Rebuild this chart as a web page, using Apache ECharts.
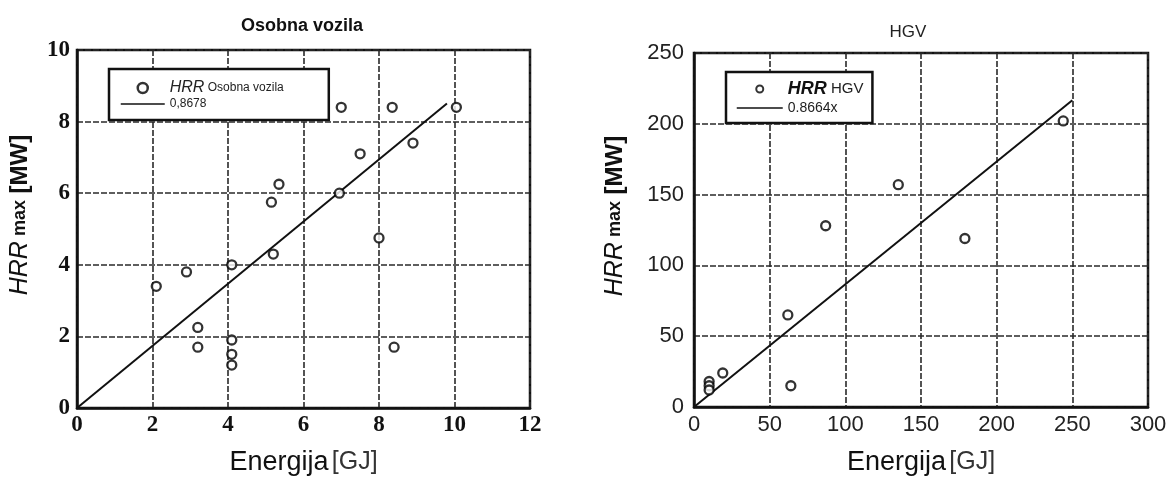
<!DOCTYPE html>
<html>
<head>
<meta charset="utf-8">
<style>
  html, body { margin: 0; padding: 0; background: #fff; }
  #chart { width: 1170px; height: 481px; }
</style>
<script src="https://cdn.jsdelivr.net/npm/echarts@6/dist/echarts.min.js"></script>
</head>
<body>
<div id="chart"></div>
<script>
// Passenger cars (Osobna vozila): energy [GJ] vs peak HRR [MW]
const carEnergy = [2.1, 2.9, 3.2, 3.2, 4.1, 4.1, 4.1, 4.1, 5.2, 5.15, 5.35, 6.95, 7.0, 7.5, 8.0, 8.35, 8.4, 8.9, 10.05];
const carHrr    = [3.4, 3.8, 2.25, 1.7, 4.0, 1.9, 1.5, 1.2, 4.3, 5.75, 6.25, 6.0, 8.4, 7.1, 4.75, 8.4, 1.7, 7.4, 8.4];
const carSlope = 0.8678;
const carFitEnd = 9.8;

// Heavy goods vehicles (HGV)
const hgvEnergy = [10, 10, 10, 19, 62, 64, 87, 135, 179, 244];
const hgvHrr    = [18, 15, 12, 24, 65, 15, 128, 157, 119, 202];
const hgvSlope = 0.8664;
const hgvFitEnd = 250;

const carTicksX = { min: 0, max: 12, interval: 2 };
const carTicksY = { min: 0, max: 10, interval: 2 };
const hgvTicksX = { min: 0, max: 300, interval: 50 };
const hgvTicksY = { min: 0, max: 250, interval: 50 };

const carNames = ['HRR Osobna vozila', '0,8678'];
const hgvNames = ['HRR HGV', '0.8664x'];

const zip = (xs, ys) => xs.map((x, i) => [x, ys[i]]);
const fitLine = (slope, end) => [[0, 0], [end, slope * end]];

const gridLine = { show: true, lineStyle: { color: '#2a2a2a', width: 1.6, type: [6, 2] } };
const frame = { show: true, lineStyle: { color: '#111', width: 2.5 } };

const serifLabel = { fontFamily: 'Liberation Serif', fontWeight: 'bold', fontSize: 23, color: '#111' };
const sansLabel  = { fontFamily: 'Liberation Sans', fontSize: 22, color: '#222' };

const yName = '{i|HRR}{m| max}  {b|[MW]}';
const yNameRich = {
  i: { fontFamily: 'Liberation Sans', fontStyle: 'italic', fontSize: 25, color: '#111' },
  m: { fontFamily: 'Liberation Sans', fontWeight: 'bold', fontSize: 18, color: '#111' },
  b: { fontFamily: 'Liberation Sans', fontWeight: 'bold', fontSize: 24, color: '#111' }
};
const xName = '{e|Energija} {g|[GJ]}';
const xNameRich = {
  e: { fontFamily: 'Liberation Sans', fontSize: 27, color: '#111', fontWeight: 500 },
  g: { fontFamily: 'Liberation Sans', fontSize: 25, color: '#333' }
};

const scatterStyle = { color: '#fff', borderColor: '#000', borderWidth: 2.3 };
const fitStyle = { color: '#111', width: 2 };

// legend entries: hollow marker for the measurements, bare line for the fit
const legendItems = (names, markerBorder) => [
  { name: names[0], itemStyle: { color: '#fff', borderColor: '#000', borderWidth: markerBorder } },
  { name: names[1], itemStyle: { opacity: 0 }, lineStyle: { color: '#111', width: 1.5 } }
];
const legendLabel = n => n.startsWith('HRR') ? '{i|HRR}{t| ' + n.slice(4) + '}' : '{s|' + n + '}';

const chart = echarts.init(document.getElementById('chart'), null, { renderer: 'canvas' });

chart.setOption({
  animation: false,
  backgroundColor: '#fff',
  title: [
    { text: 'Osobna vozila', left: 297, top: 12, textAlign: 'center',
      textStyle: { fontFamily: 'Liberation Sans', fontWeight: 'bold', fontSize: 18, color: '#111' } },
    { text: 'HGV', left: 903, top: 19, textAlign: 'center',
      textStyle: { fontFamily: 'Liberation Sans', fontWeight: 'normal', fontSize: 17, color: '#222' } }
  ],
  legend: [
    {
      data: legendItems(carNames, 2.5), left: 109, top: 69, orient: 'vertical',
      itemWidth: 44, itemHeight: 10, itemGap: 2,
      padding: [11, 45, 10, 11],
      backgroundColor: '#fff', borderColor: '#111', borderWidth: 2.5, borderRadius: 0,
      formatter: legendLabel,
      textStyle: {
        rich: {
          i: { fontFamily: 'Liberation Sans', fontStyle: 'italic', fontSize: 16, color: '#222', lineHeight: 14 },
          t: { fontFamily: 'Liberation Sans', fontSize: 12, color: '#222', lineHeight: 14 },
          s: { fontFamily: 'Liberation Sans', fontSize: 12, color: '#222', lineHeight: 14 }
        }
      }
    },
    {
      data: legendItems(hgvNames, 2), left: 726, top: 72, orient: 'vertical',
      itemWidth: 46, itemHeight: 7, itemGap: 3,
      padding: [8, 9, 8, 10],
      backgroundColor: '#fff', borderColor: '#111', borderWidth: 2.5, borderRadius: 0,
      formatter: legendLabel,
      textStyle: {
        rich: {
          i: { fontFamily: 'Liberation Sans', fontStyle: 'italic', fontWeight: 'bold', fontSize: 18, color: '#111', lineHeight: 16 },
          t: { fontFamily: 'Liberation Sans', fontSize: 15, color: '#222', lineHeight: 16 },
          s: { fontFamily: 'Liberation Sans', fontSize: 14, color: '#222', lineHeight: 16 }
        }
      }
    }
  ],
  grid: [
    { left: 77, top: 50, width: 453, height: 360, show: true, borderColor: '#111', borderWidth: 2.5 },
    { left: 694, top: 53, width: 454, height: 358, show: true, borderColor: '#111', borderWidth: 2.5 }
  ],
  xAxis: [
    {
      gridIndex: 0, type: 'value', ...carTicksX,
      axisLine: frame, axisTick: { show: false }, splitLine: gridLine,
      axisLabel: { ...serifLabel, margin: 6 },
      name: xName, nameLocation: 'middle', nameGap: 41,
      nameTextStyle: { rich: xNameRich }
    },
    {
      gridIndex: 1, type: 'value', ...hgvTicksX,
      axisLine: frame, axisTick: { show: false }, splitLine: gridLine,
      axisLabel: { ...sansLabel, margin: 7 },
      name: xName, nameLocation: 'middle', nameGap: 42,
      nameTextStyle: { rich: xNameRich }
    }
  ],
  yAxis: [
    {
      gridIndex: 0, type: 'value', ...carTicksY,
      axisLine: frame, axisTick: { show: false }, splitLine: gridLine,
      axisLabel: { ...serifLabel, margin: 7 },
      name: yName, nameLocation: 'middle', nameGap: 44, nameRotate: 90,
      nameTextStyle: { rich: yNameRich, padding: [0, 0, 0, 28] }
    },
    {
      gridIndex: 1, type: 'value', ...hgvTicksY,
      axisLine: frame, axisTick: { show: false }, splitLine: gridLine,
      axisLabel: { ...sansLabel, margin: 10 },
      name: yName, nameLocation: 'middle', nameGap: 66, nameRotate: 90,
      nameTextStyle: { rich: yNameRich, padding: [0, 0, 0, 28] }
    }
  ],
  series: [
    {
      name: carNames[0], type: 'scatter', xAxisIndex: 0, yAxisIndex: 0,
      symbol: 'circle', symbolSize: 9, itemStyle: scatterStyle,
      data: zip(carEnergy, carHrr), z: 3
    },
    {
      name: carNames[1], type: 'line', xAxisIndex: 0, yAxisIndex: 0,
      symbol: 'none', lineStyle: fitStyle, itemStyle: { color: '#111' },
      data: fitLine(carSlope, carFitEnd), z: 2
    },
    {
      name: hgvNames[0], type: 'scatter', xAxisIndex: 1, yAxisIndex: 1,
      symbol: 'circle', symbolSize: 9, itemStyle: scatterStyle,
      data: zip(hgvEnergy, hgvHrr), z: 3
    },
    {
      name: hgvNames[1], type: 'line', xAxisIndex: 1, yAxisIndex: 1,
      symbol: 'none', lineStyle: fitStyle, itemStyle: { color: '#111' },
      data: fitLine(hgvSlope, hgvFitEnd), z: 2
    }
  ]
});
</script>
</body>
</html>
